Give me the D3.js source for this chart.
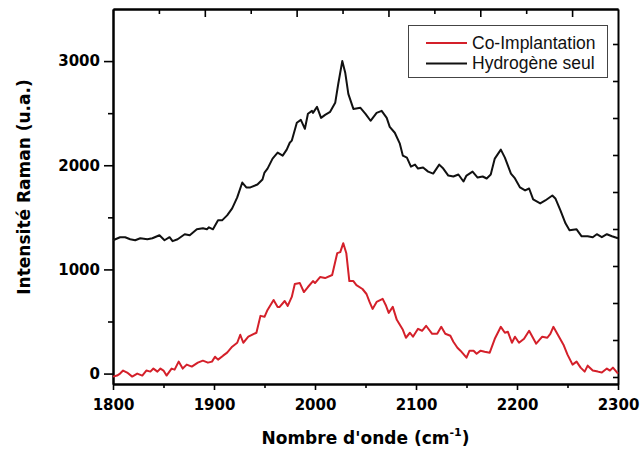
<!DOCTYPE html>
<html>
<head>
<meta charset="utf-8">
<script src="https://cdn.jsdelivr.net/npm/d3@7"></script>
<style>
  body { margin: 0; background: #fff; }
  svg { display: block; }
</style>
</head>
<body>
<div id="chart"></div>
<script>
// Raman spectra
const hydroWave = [1800, 1807, 1812, 1817, 1822, 1827, 1834, 1839, 1846, 1851, 1856, 1859, 1864, 1871, 1876, 1883, 1889, 1893, 1895, 1899,
  1904, 1908, 1913, 1918, 1923, 1928, 1932, 1936, 1943, 1948, 1950, 1953, 1958, 1963, 1968, 1972, 1975, 1977, 1982, 1986,
  1990, 1993, 1997, 1998, 2002, 2006, 2010, 2015, 2020, 2023, 2027, 2030, 2033, 2038, 2045, 2050, 2055, 2061, 2066, 2071,
  2074, 2079, 2084, 2087, 2091, 2095, 2099, 2102, 2107, 2112, 2117, 2123, 2127, 2132, 2137, 2142, 2147, 2150, 2156, 2161,
  2166, 2170, 2174, 2178, 2184, 2188, 2194, 2198, 2203, 2208, 2212, 2216, 2223, 2228, 2235, 2238, 2243, 2248, 2252, 2259,
  2264, 2270, 2275, 2279, 2284, 2289, 2294, 2300];
const hydroInt = [1280, 1309, 1309, 1290, 1280, 1299, 1290, 1299, 1328, 1280, 1309, 1271, 1290, 1338, 1328, 1385, 1395, 1385, 1404, 1385,
  1471, 1471, 1519, 1586, 1691, 1834, 1787, 1787, 1815, 1863, 1930, 1968, 2064, 2121, 2092, 2150, 2216, 2236, 2408, 2436,
  2350, 2494, 2522, 2503, 2560, 2455, 2484, 2513, 2599, 2780, 3000, 2885, 2685, 2541, 2551, 2494, 2427, 2503, 2522, 2455,
  2369, 2312, 2207, 2092, 2073, 1987, 2006, 1968, 1978, 1939, 1920, 2006, 1968, 1901, 1892, 1911, 1844, 1901, 1939, 1882,
  1892, 1873, 1911, 2064, 2150, 2073, 1920, 1873, 1787, 1758, 1777, 1672, 1634, 1662, 1710, 1681, 1567, 1443, 1376, 1385,
  1318, 1318, 1309, 1338, 1309, 1338, 1318, 1299];

const coWave = [1800, 1804, 1807, 1810, 1814, 1819, 1824, 1829, 1833, 1837, 1840, 1844, 1847, 1850, 1853, 1858, 1861, 1865, 1869, 1873,
  1878, 1884, 1889, 1894, 1898, 1901, 1904, 1909, 1913, 1918, 1923, 1926, 1929, 1934, 1942, 1946, 1950, 1953, 1959, 1963,
  1965, 1970, 1973, 1977, 1980, 1985, 1989, 1993, 1998, 2000, 2005, 2010, 2017, 2022, 2025, 2028, 2031, 2034, 2038, 2041,
  2047, 2051, 2054, 2057, 2061, 2067, 2070, 2073, 2077, 2081, 2087, 2090, 2094, 2097, 2102, 2106, 2110, 2116, 2121, 2125,
  2129, 2134, 2137, 2141, 2144, 2150, 2153, 2157, 2160, 2164, 2168, 2173, 2178, 2184, 2188, 2191, 2195, 2198, 2202, 2207,
  2212, 2219, 2225, 2230, 2233, 2236, 2241, 2246, 2250, 2255, 2259, 2263, 2267, 2270, 2275, 2280, 2284, 2289, 2292, 2295, 2300];
const coInt = [-29, -19, 0, 29, 10, -29, 0, -19, 29, 19, 48, 19, 48, 29, -19, 48, 38, 115, 48, 86,
  67, 105, 124, 105, 115, 162, 134, 172, 201, 258, 296, 373, 296, 354, 392, 554, 545, 611, 707, 640,
  640, 697, 650, 736, 860, 869, 783, 831, 888, 869, 927, 917, 946, 1156, 1166, 1252, 1156, 888, 888, 850,
  812, 764, 688, 621, 688, 717, 659, 583, 640, 516, 420, 344, 392, 354, 430, 411, 459, 382, 382, 449,
  382, 363, 306, 248, 220, 153, 220, 220, 191, 220, 210, 201, 334, 449, 392, 401, 296, 354, 296, 334,
  411, 287, 354, 344, 382, 449, 363, 277, 182, 86, 115, 57, 19, 76, 29, 19, 10, 48, 29, 57, 0];

const xTicks = [1800, 1900, 2000, 2100, 2200, 2300];
const xMinor = [1850, 1950, 2050, 2150, 2250];
const yTicks = [0, 1000, 2000, 3000];
const yMinor = [500, 1500, 2500];

const seriesNames = ["Co-Implantation", "Hydrogène seul"];
const seriesColors = ["#d4202a", "#111111"];

const W = 640, H = 453;
const margin = { top: 9, right: 22, bottom: 69, left: 113 };
const width = W - margin.left - margin.right;
const height = H - margin.top - margin.bottom;

const svg = d3.select("#chart").append("svg")
  .attr("width", W)
  .attr("height", H);

const g = svg.append("g")
  .attr("transform", `translate(${margin.left},${margin.top})`);

const x = d3.scaleLinear().domain([1800, 2300]).range([0, width]);
const y = d3.scaleLinear().domain([-100, 3500]).range([height, 0]);
// the mirrored axes of the original have their own tick spacing
const xTop = d3.scaleLinear().domain([0, 11]).range([0, width]);
const yRight = d3.scaleLinear().domain([0, 375]).range([height, 0]);

function styleAxis(sel) {
  sel.selectAll(".domain").attr("stroke", "#000").attr("stroke-width", 2);
  sel.selectAll(".tick line").attr("stroke", "#000").attr("stroke-width", 1.6);
  sel.selectAll(".tick text")
    .attr("font-family", "'DejaVu Sans', Verdana, sans-serif")
    .attr("font-weight", "bold")
    .attr("font-size", 15)
    .attr("fill", "#000");
}

// bottom
g.append("g").attr("transform", `translate(0,${height})`)
  .call(d3.axisBottom(x).tickValues(xMinor).tickSize(4).tickSizeOuter(0).tickFormat(""))
  .call(styleAxis);
g.append("g").attr("transform", `translate(0,${height})`)
  .call(d3.axisBottom(x).tickValues(xTicks).tickSize(6).tickSizeOuter(0).tickPadding(9).tickFormat(d3.format("d")))
  .call(styleAxis);

// left
g.append("g")
  .call(d3.axisLeft(y).tickValues(yMinor).tickSize(5).tickSizeOuter(0).tickFormat(""))
  .call(styleAxis);
g.append("g")
  .call(d3.axisLeft(y).tickValues(yTicks).tickSize(9).tickSizeOuter(0).tickPadding(4).tickFormat(d3.format("d")))
  .call(styleAxis);

// top (inward ticks, alternating lengths)
g.append("g")
  .call(d3.axisTop(xTop).tickValues([1, 3, 5, 7, 9]).tickSize(-5).tickSizeOuter(0).tickFormat(""))
  .call(styleAxis);
g.append("g")
  .call(d3.axisTop(xTop).tickValues([2, 4, 6, 8, 10]).tickSize(-8).tickSizeOuter(0).tickFormat(""))
  .call(styleAxis);

// right (inward ticks)
g.append("g").attr("transform", `translate(${width},0)`)
  .call(d3.axisRight(yRight).tickValues(d3.range(10).map(k => 7 + 37 * k)).tickSize(-5).tickSizeOuter(0).tickFormat(""))
  .call(styleAxis);

// curves
const line = d3.line()
  .x(d => x(d[0]))
  .y(d => y(d[1]));

const coData = coWave.map((w, i) => [w, coInt[i]]);
const hydroData = hydroWave.map((w, i) => [w, hydroInt[i]]);

g.append("path")
  .datum(coData)
  .attr("fill", "none")
  .attr("stroke", seriesColors[0])
  .attr("stroke-width", 2)
  .attr("stroke-linejoin", "round")
  .attr("d", line);

g.append("path")
  .datum(hydroData)
  .attr("fill", "none")
  .attr("stroke", seriesColors[1])
  .attr("stroke-width", 2)
  .attr("stroke-linejoin", "round")
  .attr("d", line);

// legend
const legend = svg.append("g").attr("transform", "translate(408,25)");
legend.append("rect")
  .attr("x", 0.5).attr("y", 0.5)
  .attr("width", 199).attr("height", 52)
  .attr("fill", "#fff")
  .attr("stroke", "#444")
  .attr("stroke-width", 1);

seriesNames.forEach((name, i) => {
  const row = legend.append("g").attr("transform", `translate(0,${18 + i * 20.5})`);
  row.append("line")
    .attr("x1", 18).attr("x2", 59)
    .attr("y1", 0).attr("y2", 0)
    .attr("stroke", seriesColors[i])
    .attr("stroke-width", 2);
  row.append("text")
    .attr("x", 64)
    .attr("y", 5.5)
    .attr("font-family", "'Liberation Sans', Arial, sans-serif")
    .attr("font-size", 17.5)
    .attr("fill", "#111")
    .text(name);
});

// axis titles
const xTitle = svg.append("text")
  .attr("x", margin.left + width / 2)
  .attr("y", 444)
  .attr("text-anchor", "middle")
  .attr("font-family", "'DejaVu Sans', Verdana, sans-serif")
  .attr("font-weight", "bold")
  .attr("font-size", 17)
  .attr("fill", "#000");
xTitle.append("tspan").text("Nombre d'onde (cm");
xTitle.append("tspan").attr("font-size", 11).attr("dy", -8).text("-1");
xTitle.append("tspan").attr("dy", 8).text(")");

svg.append("text")
  .attr("transform", "translate(30,187) rotate(-90)")
  .attr("text-anchor", "middle")
  .attr("font-family", "'DejaVu Sans', Verdana, sans-serif")
  .attr("font-weight", "bold")
  .attr("font-size", 17)
  .attr("fill", "#000")
  .text("Intensité Raman (u.a.)");
</script>
</body>
</html>
